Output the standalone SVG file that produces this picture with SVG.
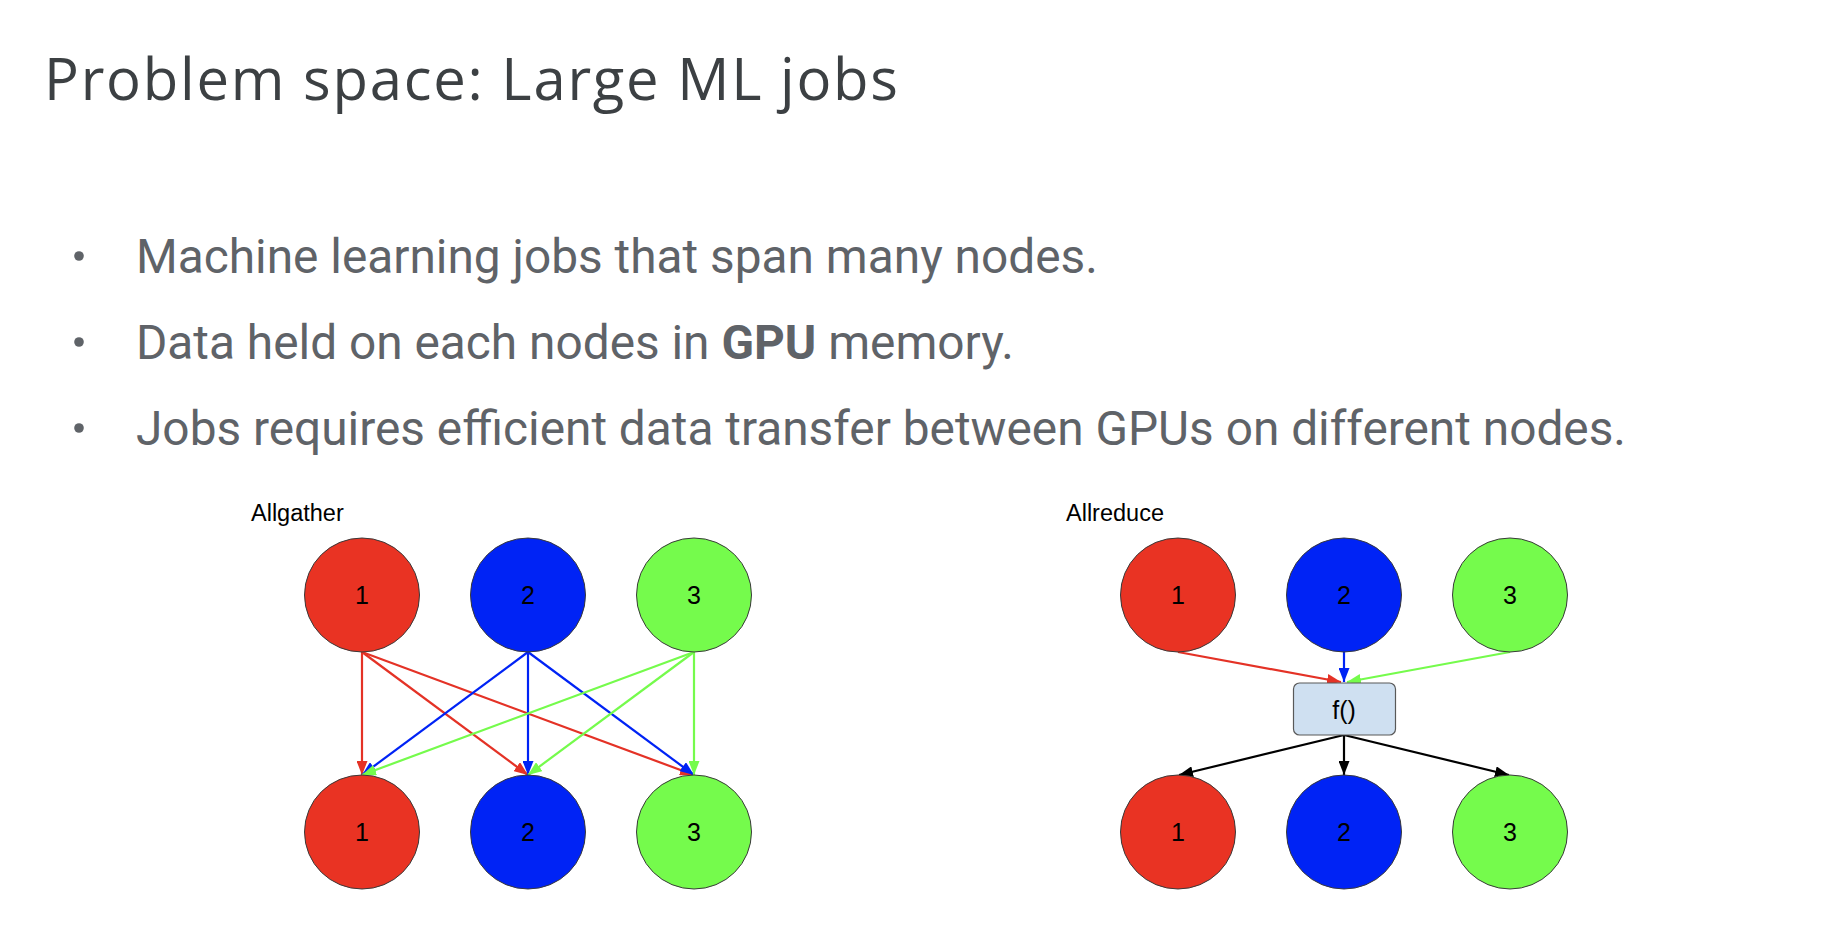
<svg xmlns="http://www.w3.org/2000/svg" width="1824" height="952" viewBox="0 0 1824 952">
  <style>
    .title { font-family: "Open Sans", "Liberation Sans", sans-serif; font-size: 58px; fill: #3c4043; }
    .bullet { font-family: Roboto, "Liberation Sans", sans-serif; font-size: 47.8px; fill: #5f6368; }
    .caption { font-family: "Liberation Sans", Arial, sans-serif; font-size: 23.5px; fill: #000; }
    .num { font-family: "Liberation Sans", Arial, sans-serif; font-size: 25px; fill: #000; text-anchor: middle; }
    .node { stroke: #3a3a3a; stroke-width: 1; }
    .red { fill: #e93323; }
    .blue { fill: #0023f5; }
    .green { fill: #75fb4c; }
    .fbox { fill: #cfe0f1; stroke: #595959; stroke-width: 1.2; }
    .edge { fill: none; stroke-width: 2.2; }
    .e-red { stroke: #e43226; marker-end: url(#ah-red); }
    .e-blue { stroke: #0023f5; marker-end: url(#ah-blue); }
    .e-green { stroke: #75fb4c; marker-end: url(#ah-green); }
    .e-black { stroke: #000; marker-end: url(#ah-black); }
  </style>
  <defs>
    <marker id="ah-red" viewBox="0 0 14 11" refX="14" refY="5.5" markerWidth="14" markerHeight="11" markerUnits="userSpaceOnUse" orient="auto">
      <path d="M0,0 L14,5.5 L0,11 z" fill="#e43226"/>
    </marker>
    <marker id="ah-blue" viewBox="0 0 14 11" refX="14" refY="5.5" markerWidth="14" markerHeight="11" markerUnits="userSpaceOnUse" orient="auto">
      <path d="M0,0 L14,5.5 L0,11 z" fill="#0023f5"/>
    </marker>
    <marker id="ah-green" viewBox="0 0 14 11" refX="14" refY="5.5" markerWidth="14" markerHeight="11" markerUnits="userSpaceOnUse" orient="auto">
      <path d="M0,0 L14,5.5 L0,11 z" fill="#75fb4c"/>
    </marker>
    <marker id="ah-black" viewBox="0 0 14 11" refX="14" refY="5.5" markerWidth="14" markerHeight="11" markerUnits="userSpaceOnUse" orient="auto">
      <path d="M0,0 L14,5.5 L0,11 z" fill="#000"/>
    </marker>
  </defs>

  <rect width="1824" height="952" fill="#fff"/>

  <!-- heading and bullet list -->
  <text class="title" x="44" y="100" textLength="854" lengthAdjust="spacing">Problem space: Large ML jobs</text>
  <g id="bullets">
    <circle cx="79" cy="256" r="4.8" fill="#5f6368"/>
    <text class="bullet" x="136" y="273">Machine learning jobs that span many nodes.</text>
    <circle cx="79" cy="342" r="4.8" fill="#5f6368"/>
    <text class="bullet" x="136" y="359">Data held on each nodes in <tspan font-weight="bold">GPU</tspan> memory.</text>
    <circle cx="79" cy="428" r="4.8" fill="#5f6368"/>
    <text class="bullet" x="136" y="445">Jobs requires efficient data transfer between GPUs on different nodes.</text>
  </g>

  <!-- Allgather -->
  <text class="caption" x="251" y="521">Allgather</text>
  <g id="ag-connectors">
    <line class="edge e-red" x1="362" y1="652" x2="362" y2="775"/>
    <line class="edge e-red" x1="362" y1="652" x2="528" y2="775"/>
    <line class="edge e-red" x1="362" y1="652" x2="694" y2="775"/>
    <line class="edge e-blue" x1="528" y1="652" x2="362" y2="775"/>
    <line class="edge e-blue" x1="528" y1="652" x2="528" y2="775"/>
    <line class="edge e-blue" x1="528" y1="652" x2="694" y2="775"/>
    <line class="edge e-green" x1="694" y1="652" x2="362" y2="775"/>
    <line class="edge e-green" x1="694" y1="652" x2="528" y2="775"/>
    <line class="edge e-green" x1="694" y1="652" x2="694" y2="775"/>
  </g>
  <g id="ag-src-1"><ellipse class="node red" cx="362" cy="595" rx="57.5" ry="57"/><text class="num" x="362" y="604">1</text></g>
  <g id="ag-src-2"><ellipse class="node blue" cx="528" cy="595" rx="57.5" ry="57"/><text class="num" x="528" y="604">2</text></g>
  <g id="ag-src-3"><ellipse class="node green" cx="694" cy="595" rx="57.5" ry="57"/><text class="num" x="694" y="604">3</text></g>
  <g id="ag-dst-1"><ellipse class="node red" cx="362" cy="832" rx="57.5" ry="57"/><text class="num" x="362" y="841">1</text></g>
  <g id="ag-dst-2"><ellipse class="node blue" cx="528" cy="832" rx="57.5" ry="57"/><text class="num" x="528" y="841">2</text></g>
  <g id="ag-dst-3"><ellipse class="node green" cx="694" cy="832" rx="57.5" ry="57"/><text class="num" x="694" y="841">3</text></g>

  <!-- Allreduce -->
  <text class="caption" x="1066" y="521">Allreduce</text>
  <g id="ar-connectors">
    <line class="edge e-red" x1="1178" y1="652" x2="1341" y2="682"/>
    <line class="edge e-blue" x1="1344" y1="652" x2="1344" y2="682"/>
    <line class="edge e-green" x1="1510" y1="652" x2="1347" y2="682"/>
    <line class="edge e-black" x1="1344" y1="735" x2="1179" y2="775"/>
    <line class="edge e-black" x1="1344" y1="735" x2="1344" y2="775"/>
    <line class="edge e-black" x1="1344" y1="735" x2="1509" y2="775"/>
  </g>
  <g id="ar-src-1"><ellipse class="node red" cx="1178" cy="595" rx="57.5" ry="57"/><text class="num" x="1178" y="604">1</text></g>
  <g id="ar-src-2"><ellipse class="node blue" cx="1344" cy="595" rx="57.5" ry="57"/><text class="num" x="1344" y="604">2</text></g>
  <g id="ar-src-3"><ellipse class="node green" cx="1510" cy="595" rx="57.5" ry="57"/><text class="num" x="1510" y="604">3</text></g>
  <g id="ar-f"><rect class="fbox" x="1293.5" y="683" width="102" height="52" rx="6"/><text class="num" x="1344" y="719">f()</text></g>
  <g id="ar-dst-1"><ellipse class="node red" cx="1178" cy="832" rx="57.5" ry="57"/><text class="num" x="1178" y="841">1</text></g>
  <g id="ar-dst-2"><ellipse class="node blue" cx="1344" cy="832" rx="57.5" ry="57"/><text class="num" x="1344" y="841">2</text></g>
  <g id="ar-dst-3"><ellipse class="node green" cx="1510" cy="832" rx="57.5" ry="57"/><text class="num" x="1510" y="841">3</text></g>
</svg>
